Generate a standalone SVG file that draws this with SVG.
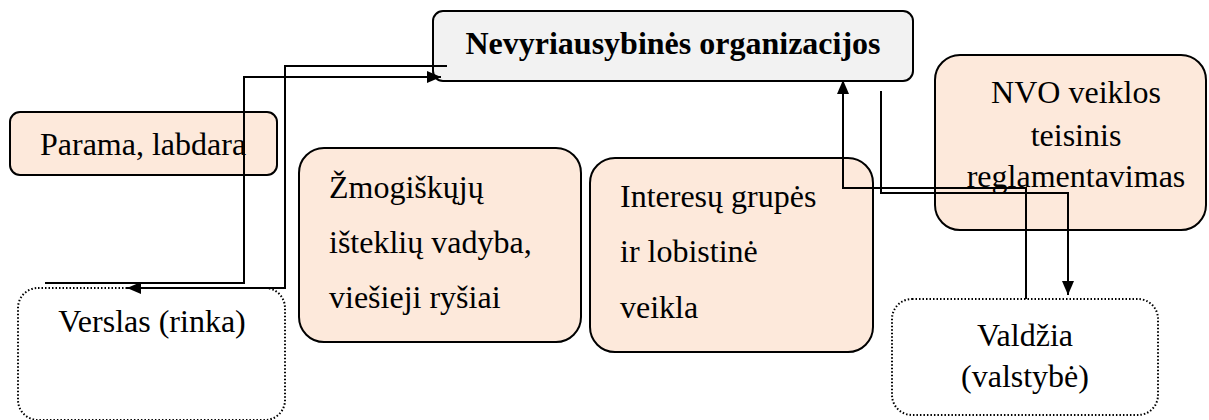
<svg xmlns="http://www.w3.org/2000/svg" width="1209" height="420" viewBox="0 0 1209 420">
<style>
.box{fill:#fde9db;stroke:#000;stroke-width:2}
.top{fill:#f2f2f2;stroke:#000;stroke-width:2}
.dot{fill:#fff;stroke:#000;stroke-width:2;stroke-dasharray:1.5 2}
text{font-family:'Liberation Serif','Times New Roman',Times,'DejaVu Serif',serif;font-size:32px;fill:#000}
.b{font-weight:bold}
.c{text-anchor:middle}
.ln{fill:none;stroke:#000;stroke-width:2}
</style>
<defs>
<marker id="ah" viewBox="0 0 14 12" refX="14" refY="6" markerWidth="14" markerHeight="12" markerUnits="userSpaceOnUse" orient="auto">
<path d="M0,0 L14,6 L0,12 Z" fill="#000"/>
</marker>
</defs>
<rect width="1209" height="420" fill="#fff"/>
<g id="ngo">
<rect class="top" x="433" y="11" width="480" height="70" rx="10"/>
<text class="b c" x="673" y="54" font-family="Liberation Serif">Nevyriausybinės organizacijos</text>
</g>
<g id="parama">
<rect class="box" x="10" y="112" width="267" height="63" rx="10"/>
<text x="40" y="155" font-family="Liberation Serif">Parama, labdara</text>
</g>
<g id="zmog">
<rect class="box" x="299" y="148" width="282" height="194" rx="25"/>
<text x="329" y="198" font-family="Liberation Serif">Žmogiškųjų</text>
<text x="329" y="253" font-family="Liberation Serif">išteklių vadyba,</text>
<text x="329" y="308" font-family="Liberation Serif">viešieji ryšiai</text>
</g>
<g id="interesu">
<rect class="box" x="590" y="158" width="283" height="194" rx="25"/>
<text x="620" y="207" font-family="Liberation Serif">Interesų grupės</text>
<text x="620" y="262" font-family="Liberation Serif">ir lobistinė</text>
<text x="620" y="318" font-family="Liberation Serif">veikla</text>
</g>
<g id="nvo">
<rect class="box" x="935" y="55" width="271" height="175" rx="25"/>
<text class="c" x="1076" y="103" font-family="Liberation Serif">NVO veiklos</text>
<text class="c" x="1076" y="146" font-family="Liberation Serif">teisinis</text>
<text class="c" x="1076" y="187" font-family="Liberation Serif">reglamentavimas</text>
</g>
<g id="verslas">
<rect class="dot" x="18" y="288" width="267" height="132" rx="20"/>
<text class="c" x="152" y="332" font-family="Liberation Serif">Verslas (rinka)</text>
</g>
<g id="valdzia">
<rect class="dot" x="892" y="299" width="266" height="116" rx="20"/>
<text class="c" x="1025" y="346" font-family="Liberation Serif">Valdžia</text>
<text class="c" x="1025" y="387" font-family="Liberation Serif">(valstybė)</text>
</g>
<g id="connectors">
<polyline class="ln" points="45,283 244,283 244,77 441,77" marker-end="url(#ah)"/>
<polyline class="ln" points="447,66 285,66 285,288 127,288" marker-end="url(#ah)"/>
<polyline class="ln" points="1026,299 1026,188 843,188 843,80" marker-end="url(#ah)"/>
<polyline class="ln" points="881,91 881,193 1068,193 1068,295" marker-end="url(#ah)"/>
</g>
</svg>
